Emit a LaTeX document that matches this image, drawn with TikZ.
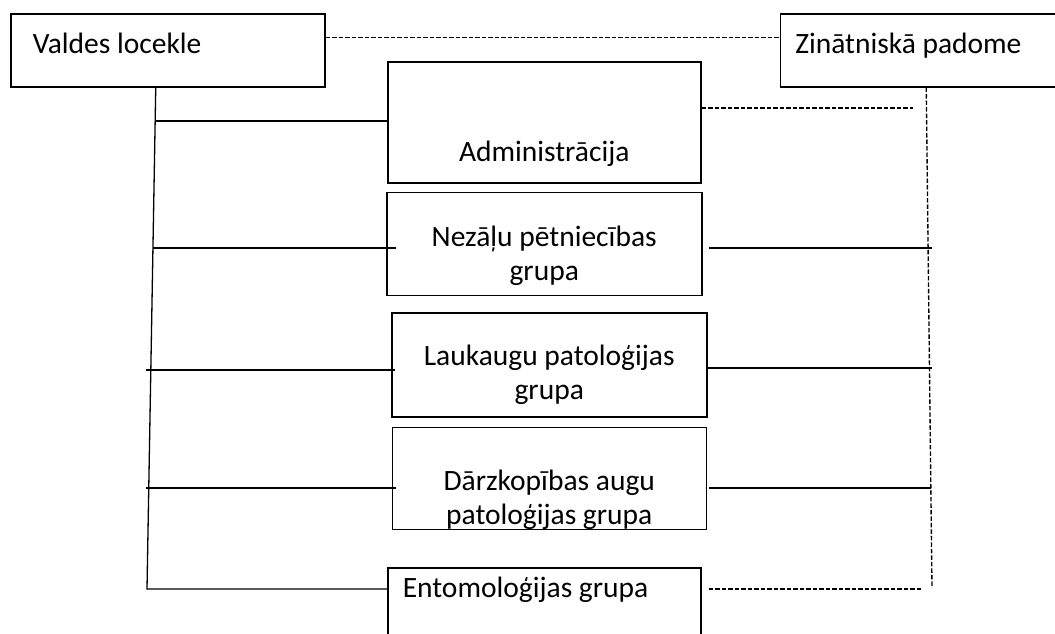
\documentclass[tikz,border=0pt]{standalone}
\usepackage{fontspec}
\setmainfont{Carlito}
\usetikzlibrary{positioning}

\begin{document}
\begin{tikzpicture}[x=1pt, y=-1pt, line width=1.5pt,
        font=\fontsize{29.5}{34}\selectfont,
        box/.style={draw, rectangle, inner xsep=0pt, inner ysep=0pt},
        dashln/.style={line width=1.35pt, dash pattern=on 4.5pt off 2pt}]
        \clip (0,0) rectangle (1055,633);

        % Valdes locekle
        \node (valdes) [box, anchor=north west, minimum width=314pt, text width=270pt, align=flush left, text height=40pt, text depth=33pt] at (10,13) {Valdes locekle};

        % Zinatniska padome
        \node (zin) [box, minimum width=292pt, text width=262pt, align=flush left, text height=40pt, text depth=33pt, right=454pt of valdes] {Zinātniskā padome};

        % Administracija
        \node (admin) [box, anchor=north west, minimum width=313pt, text height=100pt, text depth=21pt] at (387,61) {Administrācija};

        % Groups
        \node (nezalu) [box, minimum width=315pt, text width=290pt, align=flush center, text height=54pt, text depth=49pt, below=8pt of admin] {Nezāļu pētniecības\\grupa};
        \node (laukaugu) [box, minimum width=315pt, text width=290pt, align=flush center, text height=53pt, text depth=51pt, below=16pt of nezalu, xshift=5pt] {Laukaugu patoloģijas\\grupa};
        \node (darzkop) [box, minimum width=314pt, text width=290pt, align=flush center, text height=63pt, text depth=39pt, below=9pt of laukaugu] {Dārzkopības augu\\patoloģijas grupa};
        \node (ento) [box, minimum width=313pt, text width=283pt, align=flush left, text height=30pt, text depth=70pt, below=37pt of darzkop, xshift=-5pt] {Entomoloģijas grupa};

        % Row ends
        \coordinate (trunktop) at ([xshift=-12pt]valdes.south);
        \coordinate (trunkend) at (147,589);
        \coordinate (adL) at (155,121);
        \coordinate (adR) at (913,108);
        \coordinate (nzL) at (153,248);
        \coordinate (nzR) at (932,248);
        \coordinate (lkL) at (146,370);
        \coordinate (lkR) at (932,368);
        \coordinate (dkL) at (146,488);
        \coordinate (dkR) at (931,488);
        \coordinate (enR) at (922,589);
        \coordinate (rtend) at (932,588);

        % Dashed links to Zinatniska padome
        \draw[dashln] ([yshift=12.5pt]valdes.east) -- ([yshift=12.5pt]zin.west);
        \draw[dashln] (zin.south) -- (rtend);
        \draw[dashln] (admin.east |- adR) -- (adR);
        \draw[dashln] ([xshift=7pt]ento.east |- enR) -- (enR);

        % Trunk from Valdes locekle
        \draw[line width=1.3pt] (trunktop) -- (trunkend) -- (trunkend -| ento.west);
        \draw (adL) -- (adL -| admin.west);
        \draw (nzL) -- ([xshift=10pt]nezalu.west |- nzL);
        \draw (lkL) -- ([xshift=4pt]laukaugu.west |- lkL);
        \draw (dkL) -- ([xshift=4pt]darzkop.west |- dkL);

        % Right side lines
        \draw ([xshift=6pt]nezalu.east |- nzR) -- (nzR);
        \draw (laukaugu.east |- lkR) -- (lkR);
        \draw ([xshift=2pt]darzkop.east |- dkR) -- (dkR);
\end{tikzpicture}
\end{document}
